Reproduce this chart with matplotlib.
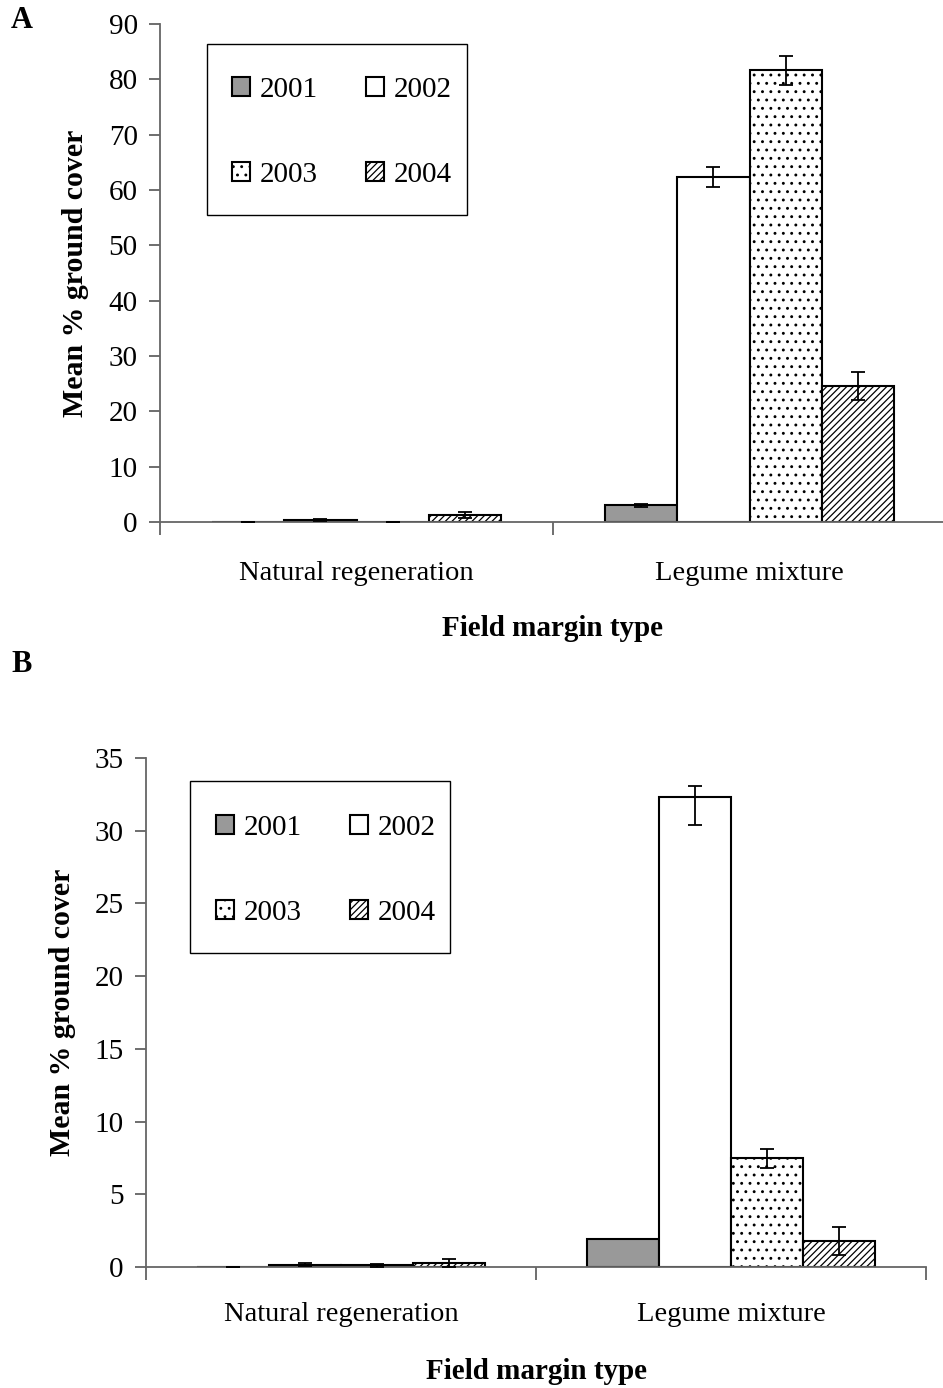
import matplotlib
matplotlib.use("Agg")
import matplotlib.pyplot as plt
from matplotlib.patches import Rectangle
import numpy as np

plt.rcParams['font.family'] = ['Liberation Serif', 'DejaVu Serif']
plt.rcParams['hatch.linewidth'] = 0.9

categories = ["Natural regeneration", "Legume mixture"]
years = ["2001", "2002", "2003", "2004"]

# Panel A values (mean % ground cover) and errors
a_vals = {"2001": [0.0, 3.0], "2002": [0.3, 62.3], "2003": [0.0, 81.6], "2004": [1.3, 24.6]}
a_err_lo = {"2001": [0.0, 0.2], "2002": [0.2, 1.8], "2003": [0.0, 2.7], "2004": [0.5, 2.5]}
a_err_hi = {"2001": [0.0, 0.2], "2002": [0.2, 1.8], "2003": [0.0, 2.7], "2004": [0.5, 2.5]}

# Panel B values
b_vals = {"2001": [0.0, 1.93], "2002": [0.15, 32.3], "2003": [0.12, 7.47], "2004": [0.27, 1.79]}
b_err_lo = {"2001": [0.0, 0.0], "2002": [0.1, 1.9], "2003": [0.1, 0.64], "2004": [0.25, 0.97]}
b_err_hi = {"2001": [0.0, 0.0], "2002": [0.1, 0.75], "2003": [0.1, 0.64], "2004": [0.25, 0.97]}

styles = {
    "2001": dict(facecolor="#999999", hatch=None),
    "2002": dict(facecolor="white", hatch=None),
    "2003": dict(facecolor="white", hatch=".."),
    "2004": dict(facecolor="white", hatch="/////"),
}

FS = 21
fig = plt.figure(figsize=(9.43, 13.88), dpi=100)

def draw_panel(ax, vals, elo, ehi, ymax, ystep, frame_box, leg_anchor, catpad):
    x = np.arange(len(categories))
    w = 0.184
    handles = []
    for i, yr in enumerate(years):
        pos = x + (i - 1.5) * w
        st = styles[yr]
        b = ax.bar(pos, vals[yr], width=w, facecolor=st["facecolor"], edgecolor="black",
                   linewidth=1.5, hatch=st["hatch"], label=yr, zorder=2)
        handles.append(b)
        ax.errorbar(pos, vals[yr], yerr=[elo[yr], ehi[yr]], fmt="none", ecolor="black",
                    elinewidth=1.3, capsize=5, capthick=1.3, zorder=3)
    ax.set_xlim(-0.5, 1.5)
    ax.set_ylim(0, ymax)
    ticks = np.arange(0, ymax + 0.1, ystep)
    ax.set_yticks(ticks)
    ax.set_yticklabels([f"{int(v)}" for v in ticks], fontsize=FS)
    ax.set_xticks([-0.5, 0.5, 1.5])
    ax.set_xticklabels([])
    ax.set_xticks([0, 1], minor=True)
    ax.set_xticklabels(categories, minor=True, fontsize=20.5)
    ax.tick_params(axis="x", which="minor", length=0, pad=catpad)
    ax.tick_params(axis="x", which="major", length=9, width=1.2, color="#555555", direction="out")
    ax.tick_params(axis="y", length=8, width=1.2, color="#555555", direction="out", pad=8)
    for s in ["top", "right"]:
        ax.spines[s].set_visible(False)
    for s in ["left", "bottom"]:
        ax.spines[s].set_color("#666666")
        ax.spines[s].set_linewidth(1.3)
    ax.set_ylabel("Mean % ground cover", fontsize=21.5, fontweight="bold")
    ax.set_xlabel("Field margin type", fontsize=FS, fontweight="bold")
    # legend frame drawn separately
    ax.add_patch(Rectangle((frame_box[0], frame_box[1]), frame_box[2], frame_box[3],
                           transform=ax.transAxes, facecolor="white", edgecolor="black",
                           linewidth=1.0, zorder=4, clip_on=False))
    order = [0, 2, 1, 3]
    leg = ax.legend([handles[k] for k in order], [years[k] for k in order], ncol=2,
                    loc="upper left", bbox_to_anchor=leg_anchor, fontsize=FS,
                    frameon=False, handlelength=0.62, handleheight=0.62, handletextpad=0.34,
                    labelspacing=2.03, columnspacing=1.64, borderpad=0, borderaxespad=0)
    leg.set_zorder(5)
    return ax

axA = fig.add_axes([160/943, 1 - 522/1388, (946 - 160)/943, (522 - 24)/1388])
draw_panel(axA, a_vals, a_err_lo, a_err_hi, 90, 10,
           (0.0598, 0.6165, 0.3308, 0.3434), (0.0916, 0.8936), 28)
axA.yaxis.set_label_coords(-0.09, 0.5)
axA.xaxis.set_label_coords(0.5, -0.187)

axB = fig.add_axes([146/943, 1 - 1267/1388, (926 - 146)/943, (1267 - 758)/1388])
draw_panel(axB, b_vals, b_err_lo, b_err_hi, 35, 5,
           (0.0564, 0.6169, 0.3333, 0.3379), (0.0897, 0.888), 25)
axB.yaxis.set_label_coords(-0.09, 0.5)
axB.xaxis.set_label_coords(0.5, -0.179)

fig.text(22/943, 1 - 20/1388, "A", fontsize=22, fontweight="bold", ha="center", va="center")
fig.text(22/943, 1 - 665/1388, "B", fontsize=22, fontweight="bold", ha="center", va="center")

fig.savefig("out.png", dpi=100)
